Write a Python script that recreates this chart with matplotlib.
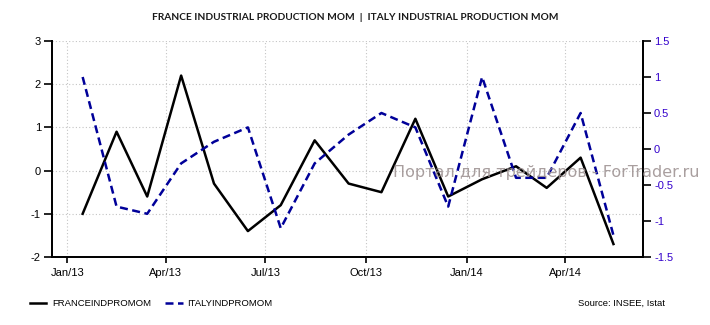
import matplotlib
matplotlib.use('Agg')
import matplotlib.pyplot as plt
import matplotlib.dates as mdates
from datetime import datetime

plt.rcParams['font.family'] = ['Liberation Sans', 'DejaVu Sans']

# monthly readings, Jan 2013 .. May 2014 (plotted mid-month)
months = [datetime(2013 + (m // 12), m % 12 + 1, 15) for m in range(17)]
france = [-1.0, 0.9, -0.6, 2.2, -0.3, -1.4, -0.8, 0.7, -0.3, -0.5, 1.2, -0.6,
          -0.2, 0.1, -0.4, 0.3, -1.7]
italy = [1.0, -0.8, -0.9, -0.2, 0.1, 0.3, -1.1, -0.2, 0.2, 0.5, 0.3, -0.8,
         1.0, -0.4, -0.4, 0.5, -1.2]

left_ticks = [-2, -1, 0, 1, 2, 3]
right_ticks = [-1.5, -1, -0.5, 0, 0.5, 1, 1.5]
right_labels = ['-1.5', '-1', '-0.5', '0', '0.5', '1', '1.5']
x_ticks = [datetime(2013, 1, 1), datetime(2013, 4, 1), datetime(2013, 7, 1),
           datetime(2013, 10, 1), datetime(2014, 1, 1), datetime(2014, 4, 1)]

fig = plt.figure(figsize=(7.1, 3.25), dpi=100)
ax = fig.add_axes([52 / 710, 1 - 257 / 325, (643 - 52) / 710, (257 - 41) / 325])
ax2 = ax.twinx()

ax.plot(months, france, color='black', lw=1.8, zorder=3)
ax2.plot(months, italy, color='#000099', lw=1.8, dashes=(3.2, 1.8), zorder=3)

ax.set_xlim(datetime(2012, 12, 18), datetime(2014, 6, 11))
ax.set_ylim(-2, 3)
ax2.set_ylim(-1.5, 1.5)

ax.set_xticks(x_ticks)
ax.xaxis.set_major_formatter(mdates.DateFormatter('%b/%y'))
ax.set_yticks(left_ticks)
ax.set_yticklabels([str(t) for t in left_ticks])
ax2.set_yticks(right_ticks)
ax2.set_yticklabels(right_labels)

ax.grid(True, color='#c4c4c4', lw=0.8, ls=(0, (1, 2)))
ax.set_axisbelow(True)

for a in (ax, ax2):
    a.spines['top'].set_visible(False)
    for s in ('left', 'right', 'bottom'):
        a.spines[s].set_linewidth(1.3)
        a.spines[s].set_color('black')

ax.tick_params(axis='y', direction='out', length=6, width=1.2, labelsize=8, pad=2)
ax.tick_params(axis='x', direction='out', length=4, width=1.2, labelsize=8, pad=4)
ax2.tick_params(axis='y', direction='out', length=6, width=1.2, labelsize=8,
                labelcolor='#3300cc', pad=2)

fig.text(0.5, 1 - 18 / 325,
         'FRANCE INDUSTRIAL PRODUCTION MOM  |  ITALY INDUSTRIAL PRODUCTION MOM',
         ha='center', va='center', fontsize=7.3, fontweight='bold', color='#1a1a1a',
         family=['Lato', 'DejaVu Sans'])

fig.text(393 / 710, 1 - 173 / 325, 'Портал для трейдеров - ForTrader.ru',
         ha='left', va='center', fontsize=11.5, color='#9a8e8e', alpha=0.85,
         family=['DejaVu Sans'], zorder=10)

# legend row
ly = 1 - 303 / 325
fig.add_artist(plt.Line2D([30 / 710, 46 / 710], [ly, ly], color='black', lw=1.8))
fig.text(52 / 710, ly, 'FRANCEINDPROMOM', ha='left', va='center', fontsize=6.8)
fig.add_artist(plt.Line2D([165 / 710, 183 / 710], [ly, ly], color='#000099', lw=1.8,
                          dashes=(3.2, 1.8)))
fig.text(187 / 710, ly, 'ITALYINDPROMOM', ha='left', va='center', fontsize=6.8)
fig.text(665 / 710, ly, 'Source: INSEE, Istat', ha='right', va='center', fontsize=6.8)

fig.savefig('out.png', dpi=100)
